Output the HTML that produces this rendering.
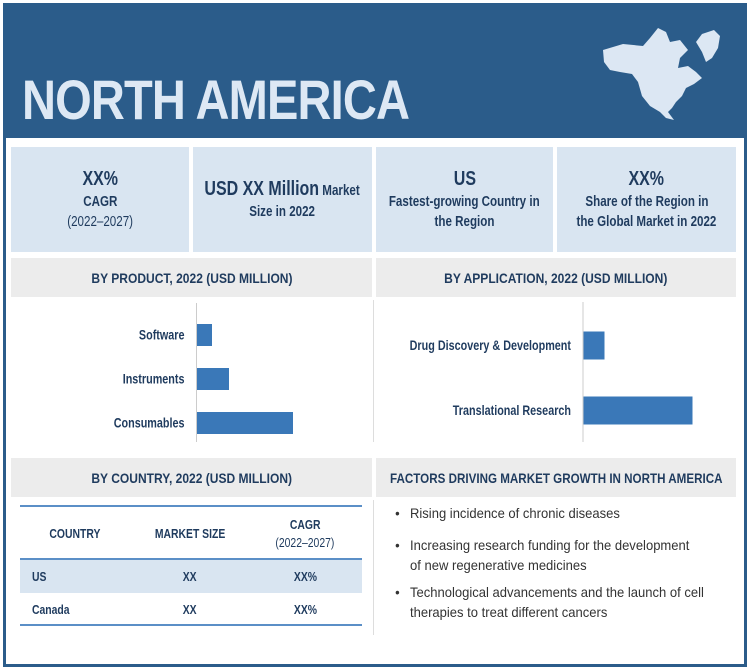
<!DOCTYPE html>
<html><head><meta charset="utf-8"><style>
*{box-sizing:border-box;margin:0;padding:0}
body{width:750px;height:671px;background:#fff;font-family:"Liberation Sans",sans-serif;color:#1f3b5e;position:relative;overflow:hidden}
.abs{position:absolute}
.n{display:inline-block;transform:scaleX(0.8);transform-origin:center;white-space:nowrap}
.frame{left:3px;top:3px;width:744px;height:664px;border:3px solid #2b5c8a}
.hdr{left:3px;top:3px;width:744px;height:135px;background:#2b5c8a}
.title{left:22px;top:67px;font-size:56px;font-weight:bold;color:#dde8f4;letter-spacing:-1px;transform:scaleX(0.84);transform-origin:left top;white-space:nowrap}
.stat{top:147px;height:105px;background:#d9e5f1;text-align:center;font-weight:bold;font-size:14.5px;line-height:20px;display:flex;flex-direction:column;justify-content:center;align-items:center}
.big{font-size:20px;line-height:25px}
.sec{height:39px;background:#ececec;font-weight:bold;font-size:14px;display:flex;align-items:center;justify-content:center}
.sec .n{transform:scaleX(0.86)}
.cell{font-size:13px;font-weight:bold;text-align:center}
.bul{font-size:14px;color:#333;line-height:20px;left:410px;width:350px;transform:scaleX(0.93);transform-origin:left top}
.bul:before{content:"•";position:absolute;left:-16px}
</style></head><body>
<div class="abs hdr"></div>
<div class="abs frame"></div>
<div class="abs title">NORTH AMERICA</div>
<svg class="abs" style="left:598px;top:22px" width="130" height="105">
<path fill="#dce7f3" d="M5,28 L25,22 L45,24 L52,16 L60,6 L68,10 L72,20 L82,18 L90,28 L82,36 L80,46 L90,44 L98,50 L104,56 L96,62 L88,66 L84,74 L78,80 L74,86 L70,90 L76,98 L68,96 L62,90 L52,84 L44,74 L40,60 L34,52 L22,50 L12,48 L6,40 Z"/>
<path fill="#dce7f3" d="M104,12 L116,8 L122,14 L120,26 L114,36 L108,40 L104,30 L98,20 Z"/>
</svg>
<div class="abs stat" style="left:11px;width:178px"><div class="n big">XX%</div><div class="n">CAGR</div><div class="n" style="font-weight:normal">(2022–2027)</div></div>
<div class="abs stat" style="left:193px;width:179px"><div class="n"><span class="big">USD XX Million</span> Market</div><div class="n">Size in 2022</div></div>
<div class="abs stat" style="left:376px;width:177px"><div class="n big">US</div><div class="n">Fastest-growing Country in</div><div class="n">the Region</div></div>
<div class="abs stat" style="left:557px;width:179px"><div class="n big">XX%</div><div class="n">Share of the Region in</div><div class="n">the Global Market in 2022</div></div>
<div class="abs sec" style="left:11px;top:258px;width:361px"><span class="n">BY PRODUCT, 2022 (USD MILLION)</span></div>
<div class="abs sec" style="left:376px;top:258px;width:360px"><span class="n">BY APPLICATION, 2022 (USD MILLION)</span></div>
<div class="abs" style="left:373px;top:300px;width:1px;height:142px;background:#ddd"></div>
<svg class="abs" id="charts" style="left:0;top:0" width="750" height="450"></svg>
<div class="abs sec" style="left:11px;top:458px;width:361px"><span class="n">BY COUNTRY, 2022 (USD MILLION)</span></div>
<div class="abs sec" style="left:376px;top:458px;width:360px"><span class="n" style="transform:scaleX(0.83)">FACTORS DRIVING MARKET GROWTH IN NORTH AMERICA</span></div>
<div class="abs" style="left:20px;top:505px;width:342px;height:2px;background:#5b8fc7"></div>
<div class="abs" style="left:20px;top:558px;width:342px;height:35px;background:#d9e5f1;border-top:2px solid #5b8fc7"></div>
<div class="abs" style="left:20px;top:624px;width:342px;height:2px;background:#5b8fc7"></div>
<div class="abs cell" style="left:30px;top:526px;width:90px"><span class="n">COUNTRY</span></div>
<div class="abs cell" style="left:140px;top:526px;width:100px"><span class="n">MARKET SIZE</span></div>
<div class="abs cell" style="left:250px;top:516px;width:110px;line-height:18px"><span class="n">CAGR</span><br><span class="n" style="font-weight:normal">(2022–2027)</span></div>
<div class="abs cell" style="left:32px;top:569px;text-align:left"><span class="n" style="transform-origin:left">US</span></div>
<div class="abs cell" style="left:160px;top:569px;width:60px"><span class="n">XX</span></div>
<div class="abs cell" style="left:275px;top:569px;width:60px"><span class="n">XX%</span></div>
<div class="abs cell" style="left:32px;top:602px;text-align:left"><span class="n" style="transform-origin:left">Canada</span></div>
<div class="abs cell" style="left:160px;top:602px;width:60px"><span class="n">XX</span></div>
<div class="abs cell" style="left:275px;top:602px;width:60px"><span class="n">XX%</span></div>
<div class="abs" style="left:373px;top:500px;width:1px;height:135px;background:#ddd"></div>
<div class="abs bul" style="top:503px">Rising incidence of chronic diseases</div>
<div class="abs bul" style="top:535px">Increasing research funding for the development<br>of new regenerative medicines</div>
<div class="abs bul" style="top:582px">Technological advancements and the launch of cell<br>therapies to treat different cancers</div>
<script>
const productCats=["Software","Instruments","Consumables"];
const productVals=[15,32,96];
const appCats=["Drug Discovery & Development","Translational Research"];
const appVals=[21,109];
const svg=document.getElementById('charts');
const NS='http://www.w3.org/2000/svg';
function chart(cats,vals,x0,y0,y1,bandTop,band,barH,scale,name){
  const ax=document.createElementNS(NS,'line');
  ax.setAttribute('x1',x0);ax.setAttribute('x2',x0);ax.setAttribute('y1',y0);ax.setAttribute('y2',y1);
  ax.setAttribute('stroke','#ccc');
  
  
  svg.appendChild(ax);
  cats.forEach((c,i)=>{
    const cy=bandTop+band*i+band/2;
    const r=document.createElementNS(NS,'rect');
    r.setAttribute('x',x0+0.5);r.setAttribute('y',cy-barH/2);r.setAttribute('width',vals[i]*scale);r.setAttribute('height',barH);
    r.setAttribute('fill','#3a78b8');
    
    
    svg.appendChild(r);
    const t=document.createElementNS(NS,'text');
    t.setAttribute('x',0);t.setAttribute('y',0);t.setAttribute('text-anchor','end');
    t.setAttribute('transform','translate('+(x0-12)+','+(cy+4.5)+') scale(0.8,1)');
    t.setAttribute('font-size','13.5');t.setAttribute('font-weight','bold');t.setAttribute('fill','#1f3b5e');
    t.setAttribute('font-family','Liberation Sans, sans-serif');
    t.textContent=c;
    
    
    svg.appendChild(t);
  });
}
chart(productCats,productVals,196.5,303,442,313,44,22,1,'product');
chart(appCats,appVals,583,302,442,313,65,28,1,'application');
</script>
</body></html>
